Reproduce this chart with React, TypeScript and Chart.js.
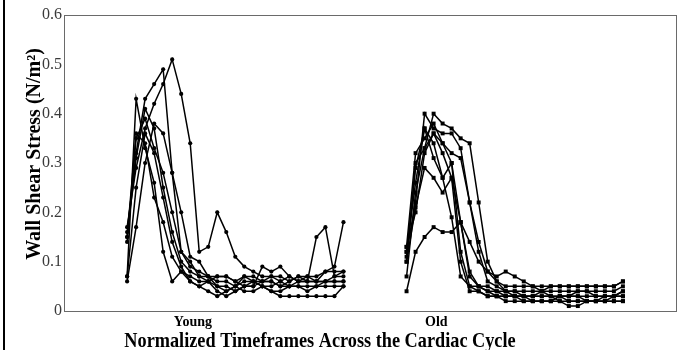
import React, { useEffect, useRef } from 'react';
import { Chart, registerables } from 'chart.js';

Chart.register(...registerables);

// Normalized timeframe positions: Young runs 1..25, Old runs 32..56
const youngStart = 1;
const oldStart = 32;

const xTickValues = [8.3, 35.3];
const xTickLabels = ['Young', 'Old'];
const yTickValues = [0, 0.1, 0.2, 0.3, 0.4, 0.5, 0.6];

const young1 = [0.17, 0.29, 0.37, 0.42, 0.46, 0.51, 0.44, 0.34, 0.12, 0.13, 0.20, 0.16, 0.11, 0.09, 0.08, 0.07, 0.07, 0.06, 0.07, 0.06, 0.07, 0.07, 0.08, 0.09, 0.18];
const young2 = [0.16, 0.32, 0.43, 0.46, 0.49, 0.28, 0.12, 0.10, 0.07, 0.07, 0.06, 0.06, 0.05, 0.06, 0.06, 0.05, 0.05, 0.06, 0.05, 0.05, 0.05, 0.05, 0.06, 0.06, 0.06];
const young3 = [0.07, 0.43, 0.33, 0.26, 0.12, 0.06, 0.08, 0.07, 0.06, 0.06, 0.07, 0.07, 0.06, 0.05, 0.06, 0.05, 0.04, 0.04, 0.05, 0.05, 0.04, 0.05, 0.05, 0.05, 0.05];
const young4 = [0.15, 0.31, 0.41, 0.37, 0.25, 0.16, 0.10, 0.08, 0.07, 0.06, 0.05, 0.05, 0.04, 0.05, 0.05, 0.06, 0.06, 0.05, 0.06, 0.07, 0.07, 0.06, 0.06, 0.07, 0.07];
const young5 = [0.14, 0.35, 0.39, 0.33, 0.28, 0.20, 0.12, 0.09, 0.08, 0.07, 0.07, 0.07, 0.06, 0.07, 0.06, 0.06, 0.07, 0.07, 0.06, 0.07, 0.06, 0.06, 0.06, 0.06, 0.06];
const young6 = [0.06, 0.17, 0.30, 0.38, 0.36, 0.28, 0.20, 0.11, 0.10, 0.07, 0.05, 0.04, 0.05, 0.04, 0.04, 0.05, 0.04, 0.03, 0.03, 0.03, 0.03, 0.03, 0.03, 0.03, 0.05];
const young7 = [0.07, 0.25, 0.36, 0.32, 0.23, 0.14, 0.09, 0.06, 0.05, 0.04, 0.03, 0.04, 0.05, 0.07, 0.07, 0.06, 0.06, 0.05, 0.05, 0.06, 0.06, 0.15, 0.17, 0.07, 0.08];
const young8 = [0.15, 0.36, 0.34, 0.23, 0.18, 0.11, 0.08, 0.06, 0.05, 0.06, 0.04, 0.03, 0.04, 0.05, 0.05, 0.09, 0.08, 0.09, 0.07, 0.06, 0.06, 0.06, 0.08, 0.08, 0.08];

const old1 = [0.12, 0.22, 0.40, 0.37, 0.36, 0.36, 0.33, 0.22, 0.14, 0.08, 0.06, 0.05, 0.05, 0.05, 0.05, 0.04, 0.05, 0.05, 0.05, 0.05, 0.05, 0.05, 0.05, 0.05, 0.06];
const old2 = [0.10, 0.30, 0.33, 0.40, 0.38, 0.37, 0.35, 0.34, 0.22, 0.10, 0.06, 0.04, 0.04, 0.04, 0.04, 0.04, 0.04, 0.04, 0.04, 0.04, 0.04, 0.04, 0.04, 0.04, 0.05];
const old3 = [0.04, 0.12, 0.15, 0.17, 0.16, 0.16, 0.18, 0.14, 0.10, 0.08, 0.07, 0.08, 0.07, 0.06, 0.05, 0.05, 0.05, 0.05, 0.05, 0.05, 0.05, 0.05, 0.05, 0.05, 0.06];
const old4 = [0.13, 0.32, 0.35, 0.38, 0.34, 0.30, 0.18, 0.08, 0.05, 0.04, 0.03, 0.03, 0.03, 0.03, 0.02, 0.02, 0.02, 0.03, 0.03, 0.03, 0.02, 0.02, 0.02, 0.03, 0.03];
const old5 = [0.11, 0.29, 0.37, 0.34, 0.27, 0.19, 0.07, 0.05, 0.05, 0.05, 0.04, 0.03, 0.03, 0.03, 0.03, 0.03, 0.03, 0.02, 0.02, 0.02, 0.02, 0.02, 0.02, 0.02, 0.02];
const old6 = [0.07, 0.24, 0.33, 0.36, 0.32, 0.27, 0.18, 0.07, 0.05, 0.04, 0.04, 0.04, 0.03, 0.03, 0.03, 0.04, 0.03, 0.03, 0.03, 0.04, 0.04, 0.03, 0.03, 0.03, 0.04];
const old7 = [0.13, 0.20, 0.32, 0.36, 0.34, 0.32, 0.31, 0.22, 0.12, 0.06, 0.05, 0.04, 0.04, 0.03, 0.03, 0.03, 0.03, 0.03, 0.02, 0.02, 0.02, 0.02, 0.03, 0.03, 0.04];
const old8 = [0.12, 0.26, 0.37, 0.31, 0.27, 0.30, 0.12, 0.05, 0.04, 0.03, 0.03, 0.02, 0.02, 0.02, 0.02, 0.02, 0.02, 0.02, 0.01, 0.01, 0.02, 0.02, 0.02, 0.02, 0.02];
const old9 = [0.10, 0.21, 0.29, 0.27, 0.24, 0.27, 0.10, 0.04, 0.04, 0.03, 0.03, 0.03, 0.03, 0.02, 0.02, 0.02, 0.02, 0.03, 0.03, 0.03, 0.03, 0.03, 0.03, 0.03, 0.03];

const youngSeries = [young1, young2, young3, young4, young5, young6, young7, young8];
const oldSeries = [old1, old2, old3, old4, old5, old6, old7, old8, old9];

const yTitle = 'Wall Shear Stress (N/m\u00B2)';
const xTitle = 'Normalized Timeframes Across the Cardiac Cycle';

export default function App() {
  const canvasRef = useRef<HTMLCanvasElement | null>(null);

  useEffect(() => {
    const canvas = canvasRef.current;
    if (!canvas) return;

    const makeDataset = (values: number[], start: number, style: string, radius: number) => ({
      data: values.map((v, i) => ({ x: start + i, y: v })),
      borderColor: '#000',
      backgroundColor: '#000',
      borderWidth: 1.5,
      pointStyle: style,
      pointRadius: radius,
      pointBorderWidth: 0,
      pointBackgroundColor: '#000',
      showLine: true,
      tension: 0,
    });

    const datasets = [
      ...youngSeries.map((s) => makeDataset(s, youngStart, 'circle', 2.1)),
      ...oldSeries.map((s) => makeDataset(s, oldStart, 'rect', 2.8)),
    ];

    const decor = {
      id: 'decor',
      afterDraw(chart: any) {
        const { ctx, chartArea } = chart;
        ctx.save();
        ctx.strokeStyle = '#6a6a6a';
        ctx.lineWidth = 1;
        ctx.strokeRect(
          Math.round(chartArea.left) + 0.5,
          Math.round(chartArea.top) + 0.5,
          Math.round(chartArea.right - chartArea.left) - 1,
          Math.round(chartArea.bottom - chartArea.top)
        );
        ctx.fillStyle = '#000';
        ctx.fillRect(3, 0, 2, 350);
        // x axis title (condensed like the reference)
        ctx.save();
        ctx.fillStyle = '#000';
        ctx.font = 'bold 22px "Liberation Serif", "Times New Roman", serif';
        ctx.textAlign = 'center';
        ctx.textBaseline = 'alphabetic';
        ctx.translate(320, 347);
        ctx.scale(0.83, 1);
        ctx.fillText(xTitle, 0, 0);
        ctx.restore();
        // y axis title
        ctx.save();
        ctx.fillStyle = '#000';
        ctx.translate(35, 154);
        ctx.rotate(-Math.PI / 2);
        ctx.font = 'bold 20px "Liberation Serif", "Times New Roman", serif';
        ctx.textAlign = 'center';
        ctx.textBaseline = 'middle';
        ctx.fillText(yTitle, 0, 0);
        ctx.restore();
        ctx.restore();
      },
    };

    const chart = new Chart(canvas, {
      type: 'line',
      data: { datasets: datasets as any },
      plugins: [decor],
      options: {
        animation: false,
        responsive: false,
        maintainAspectRatio: false,
        layout: { padding: { left: 0, right: 7, top: 15, bottom: 0 } },
        plugins: { legend: { display: false }, tooltip: { enabled: false } },
        scales: {
          x: {
            type: 'linear',
            min: -6,
            max: 62,
            grid: { display: false, drawTicks: false },
            border: { display: false },
            afterBuildTicks: (scale: any) => {
              scale.ticks = xTickValues.map((v) => ({ value: v }));
            },
            afterFit: (scale: any) => {
              scale.height = 39;
            },
            ticks: {
              padding: 3,
              color: '#000',
              font: { family: '"Liberation Serif", "Times New Roman", serif', size: 14, weight: 'bold' },
              callback: (_v: any, i: number) => xTickLabels[i],
              maxRotation: 0,
              autoSkip: false,
            },
          },
          y: {
            min: 0,
            max: 0.6,
            grid: { display: false, drawTicks: false },
            border: { display: false },
            afterBuildTicks: (scale: any) => {
              scale.ticks = yTickValues.map((v) => ({ value: v }));
            },
            afterFit: (scale: any) => {
              scale.width = 64;
            },
            ticks: {
              padding: 2,
              color: '#3a3a3a',
              font: { family: '"Liberation Serif", "Times New Roman", serif', size: 16 },
              callback: (v: any) => (Number(v) === 0 ? '0' : Number(v).toFixed(1)),
            },
          },
        },
      },
    });

    return () => chart.destroy();
  }, []);

  return (
    <div style={{ position: 'absolute', left: 0, top: 0, width: 684, height: 350, background: '#fff' }}>
      <canvas ref={canvasRef} width={684} height={350} style={{ display: 'block' }} />
    </div>
  );
}
